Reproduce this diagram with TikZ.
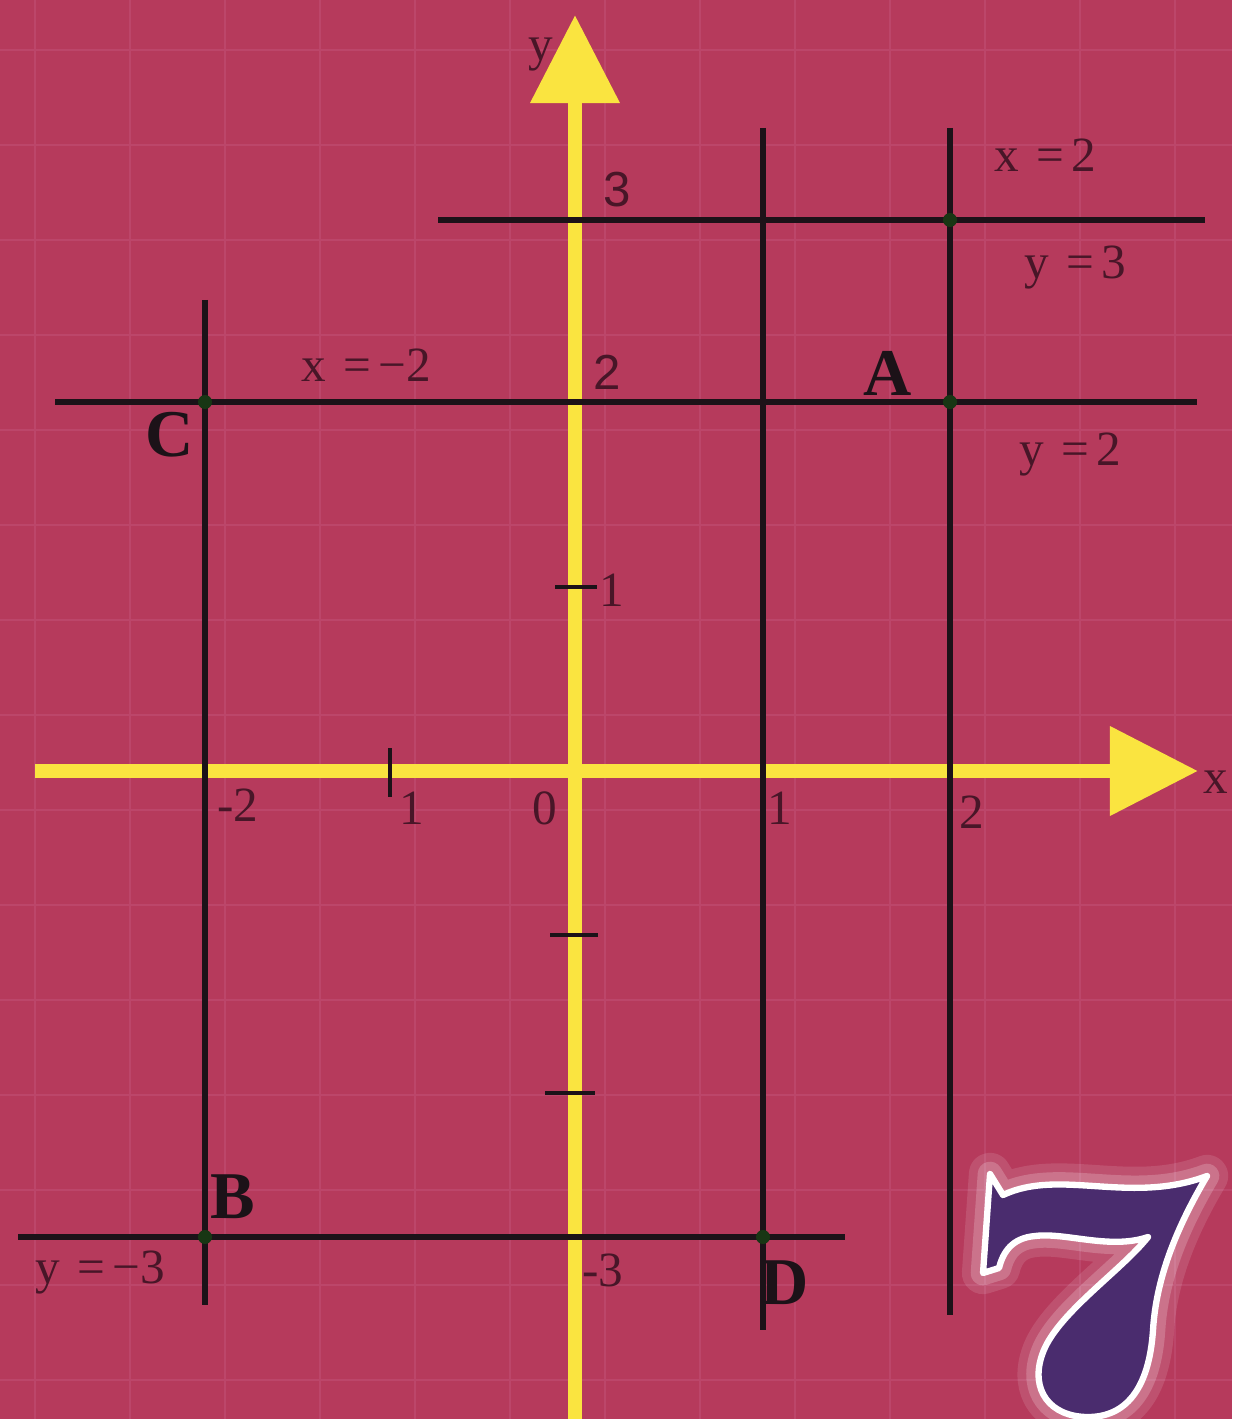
\documentclass[tikz,border=0pt]{standalone}
\usepackage{fontspec}
\setmainfont{Liberation Serif}
\newfontfamily\axisfont{Liberation Sans}
\usetikzlibrary{arrows.meta,positioning}
\definecolor{bgred}{RGB}{182,58,92}
\definecolor{gridred}{RGB}{188,70,106}
\definecolor{axisyellow}{RGB}{250,228,64}
\definecolor{inkdark}{RGB}{28,18,24}
\definecolor{labelink}{RGB}{72,22,40}
\definecolor{sevenpurple}{RGB}{74,44,110}
\newcommand{\eqsign}{\hspace{0.35em}=\hspace{0.15em}}

\begin{document}
\begin{tikzpicture}[x=0.01cm, y=-0.01cm,
    axis/.style={axisyellow, line width=4pt, -{Triangle[length=0.88cm,width=0.86cm]}},
    graphline/.style={inkdark, line width=1.5pt},
    tickmark/.style={inkdark, line width=1.3pt},
    lbl/.style={text=labelink, font=\fontsize{14}{16}\selectfont, inner sep=1pt},
    numlbl/.style={lbl, font=\axisfont\fontsize{14}{16}\selectfont},
    ptlbl/.style={text=inkdark, font=\fontsize{19}{21}\selectfont\bfseries, inner sep=1pt},
    dot/.style={circle, fill=inkdark!85!green, inner sep=0pt, minimum size=4pt}]
    % background and faint grid
    \fill[bgred] (0,0) rectangle (1232,1419);
    \useasboundingbox (0,0) rectangle (1232,1419);
    \foreach \g in {35,130,...,1232} \draw[gridred, line width=0.5pt] (\g,0) -- (\g,1419);
    \foreach \g in {50,145,...,1419} \draw[gridred, line width=0.5pt] (0,\g) -- (1232,\g);

    % axes
    \coordinate (xstart) at (35,771);
    \coordinate (xend) at (1198,771);
    \coordinate (ystart) at (575,1419);
    \coordinate (yend) at (575,15);
    \draw[axis] (xstart) -- (xend);
    \draw[axis] (ystart) -- (yend);
    \node[lbl] (xname) at (1216,782) {x};
    \node[lbl] (yname) at (541,55) {y};

    % lines x = -2, 1, 2 and y = 3, 2, -3
    \coordinate (xm2top) at (205,300);  \coordinate (xm2bot) at (205,1305);
    \coordinate (x1top) at (763,128);   \coordinate (x1bot) at (763,1330);
    \coordinate (x2top) at (950,128);   \coordinate (x2bot) at (950,1315);
    \coordinate (y3l) at (438,220);     \coordinate (y3r) at (1205,220);
    \coordinate (y2l) at (55,402);      \coordinate (y2r) at (1197,402);
    \coordinate (ym3l) at (18,1237);    \coordinate (ym3r) at (845,1237);
    \draw[graphline] (xm2top) -- (xm2bot);
    \draw[graphline] (x1top) -- (x1bot);
    \draw[graphline] (x2top) -- (x2bot);
    \draw[graphline] (y3l) -- (y3r);
    \draw[graphline] (y2l) -- (y2r);
    \draw[graphline] (ym3l) -- (ym3r);

    % intersection points
    \node[dot] (ptA) at (950,402) {};
    \node[dot] (ptB) at (205,1237) {};
    \node[dot] (ptC) at (205,402) {};
    \node[dot] (ptD) at (763,1237) {};
    \node[dot] (ptE) at (950,220) {};

    % ticks
    \coordinate (ty1l) at (555,587);   \coordinate (ty1r) at (597,587);
    \coordinate (tym1l) at (550,935);  \coordinate (tym1r) at (598,935);
    \coordinate (tym2l) at (545,1093); \coordinate (tym2r) at (595,1093);
    \coordinate (txm1t) at (390,748);  \coordinate (txm1b) at (390,797);
    \draw[tickmark] (ty1l) -- (ty1r);
    \draw[tickmark] (tym1l) -- (tym1r);
    \draw[tickmark] (tym2l) -- (tym2r);
    \draw[tickmark] (txm1t) -- (txm1b);

    % tick labels
    \node[numlbl] (t3) at (617,190) {3};
    \node[numlbl] (t2) at (607,372) {2};
    \node[lbl] (t1) at (612,590) {1};
    \node[lbl] (tm2) at (238,805) {-2};
    \node[lbl] (tm1) at (412,808) {1};
    \node[lbl] (t0) at (545,808) {0};
    \node[lbl] (tx1) at (780,808) {1};
    \node[lbl] (tx2) at (972,812) {2};
    \node[lbl] (tm3) at (603,1270) {-3};

    % equations of the lines
    \node[lbl] (eqxm2) at (366,365) {x\eqsign−2};
    \node[lbl] (eqx2) at (1045,155) {x\eqsign2};
    \node[lbl] (eqy3) at (1075,268) {y\eqsign3};
    \node[lbl] (eqy2) at (1070,455) {y\eqsign2};
    \node[lbl] (eqym3) at (100,1272) {y\eqsign−3};

    % point names
    \node[ptlbl] (nA) at (888,373) {A};
    \node[ptlbl] (nC) at (170,435) {C};
    \node[ptlbl] (nB) at (233,1197) {B};
    \node[ptlbl] (nD) at (785,1283) {D};

    % the big 7
    \def\sevenpath{(990,1174) -- (1003,1195) .. controls (1060,1168) and (1130,1205) .. (1207,1176)
      .. controls (1175,1230) and (1156,1280) .. (1153,1330)
      .. controls (1149,1390) and (1125,1417) .. (1088,1417)
      .. controls (1050,1417) and (1030,1390) .. (1042,1355)
      .. controls (1055,1315) and (1120,1272) .. (1148,1237)
      .. controls (1110,1250) and (1065,1232) .. (1035,1236)
      .. controls (1012,1238) and (1003,1252) .. (999,1268)
      -- (983,1273) -- cycle}
    \draw[white, opacity=0.12, line width=12pt, line join=round] \sevenpath;
    \draw[white, opacity=0.2, line width=7pt, line join=round] \sevenpath;
    \draw[white, fill=sevenpurple, line width=1.8pt, line join=round] \sevenpath;
\end{tikzpicture}
\end{document}
